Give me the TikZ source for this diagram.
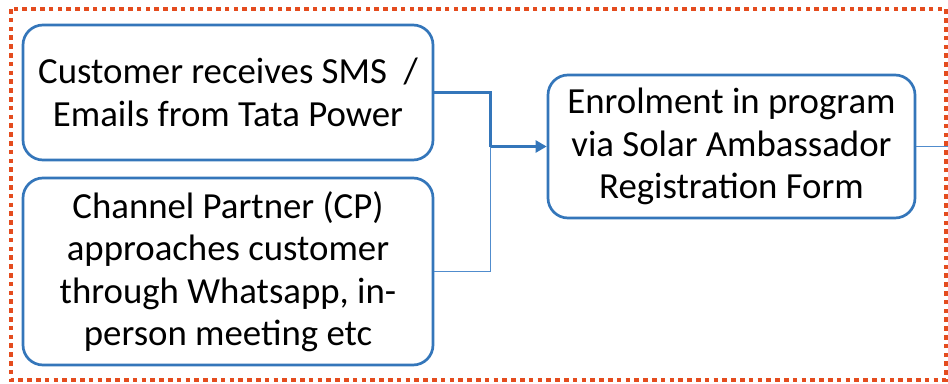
\documentclass[tikz,border=0pt]{standalone}
\usepackage{fontspec}
\setmainfont{Carlito}
\usetikzlibrary{arrows.meta}
\definecolor{boxblue}{RGB}{52,118,186}
\definecolor{linkblue}{RGB}{80,140,205}
\definecolor{frameorange}{RGB}{228,76,30}
\tikzset{
  stepbox/.style={draw=boxblue, line width=2.7pt, rounded corners=20pt,
    fill=white, align=center, inner sep=0pt,
    font=\fontsize{36.8}{42.5}\selectfont},
  mainlink/.style={draw=boxblue, line width=2.4pt},
  sidelink/.style={draw=linkblue, line width=1.5pt},
  frame/.style={draw=frameorange, line width=4.2pt, dash pattern=on 4.6pt off 4.2pt}
}
\begin{document}
\begin{tikzpicture}[x=1pt,y=-1pt]
  \useasboundingbox (0,0) rectangle (948,383);
  \clip (0,0) rectangle (948,383);
  % dotted outer frame
  \draw[frame] (11,9) rectangle (946,380);
  % process boxes
  \node[stepbox, minimum width=410pt, minimum height=135pt] (sms) at (228,92.5)
    {Customer receives SMS~~/\\Emails from Tata Power};
  \node[stepbox, minimum width=410pt, minimum height=187pt] (cp) at (228,271.5)
    {Channel Partner (CP)\\approaches customer\\through Whatsapp, in-\\person meeting etc};
  \node[stepbox, minimum width=367pt, minimum height=143pt] (enrol) at (731.5,146.5)
    {Enrolment in program\\via Solar Ambassador\\Registration Form};
  % connectors
  \coordinate (join) at (490.5,146.5);
  \coordinate (onward) at (948,146.5);
  \draw[mainlink] (sms.east) -| (join);
  \draw[sidelink] (cp.east) -| (join);
  \draw[mainlink, -{Triangle[length=11pt,width=12pt]}] (join) -- (enrol.west);
  \draw[sidelink] (enrol.east) -- (onward);
\end{tikzpicture}
\end{document}
